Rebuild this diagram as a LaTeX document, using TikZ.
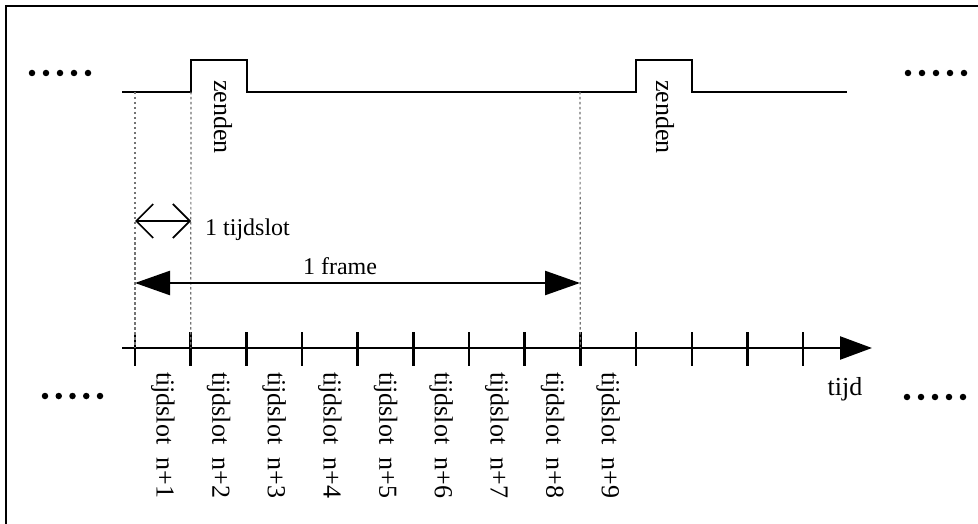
\documentclass[tikz,border=0pt]{standalone}
\usepackage{fontspec}
\setmainfont{Liberation Serif}
\usetikzlibrary{arrows.meta}
\begin{document}
\begin{tikzpicture}[x=1pt,y=-1pt,
  sig/.style={line width=2.4pt},
  guide/.style={black!55, line width=1.2pt, dash pattern=on 2.5pt off 2.5pt},
  lbl/.style={font=\fontsize{24}{24}\selectfont, inner sep=0pt},
  vlbl/.style={font=\fontsize{26}{26}\selectfont, rotate=-90, anchor=west, inner sep=0pt},
  dotmark/.style={circle, fill, inner sep=0pt, minimum size=6.5pt},
  openhead/.style={line width=1.7pt, {Straight Barb[length=17pt,width=34pt]}-{Straight Barb[length=17pt,width=34pt]}},
  fullhead/.style={line width=2.4pt, {Triangle[length=35pt,width=24pt]}-{Triangle[length=35pt,width=24pt]}},
]
\useasboundingbox (0,0) rectangle (978,524);
% outer frame (left and top edges)
\draw[line width=2.8pt] (6,524) -- (6,6) -- (978,6);

% transmit signal with two pulses
\coordinate (s0) at (122,92);
\coordinate (r1) at (191,92);
\coordinate (f1) at (247,92);
\coordinate (r2) at (636,92);
\coordinate (f2) at (692,92);
\coordinate (s1) at (847,92);
\draw[sig] (s0) -- (r1) -- ++(0,-32) -| (f1) -- (r2) -- ++(0,-32) -| (f2) -- (s1);
\node[vlbl] (z1) at (223,80) {zenden};
\node[vlbl] (z2) at (665,80) {zenden};

% time axis with slot ticks
\foreach \k in {0,...,12} {
  \coordinate (t\k) at ({135+55.67*\k},348);
  \draw[sig] (t\k) ++(0,-16) -- ++(0,34);
}
\coordinate (a0) at (122,348);
\coordinate (a1) at (872,348);
\draw[sig, -{Triangle[length=32pt,width=23pt]}] (a0) -- (a1);
\node[lbl, font=\fontsize{26}{26}\selectfont, anchor=base] (tijd) at (845,395) {tijd};

% slot labels
\foreach \k in {1,...,9} {
  \node[vlbl] (l\k) at ({135+55.67*(\k-0.5)},372) {tijdslot~~n+\k};
}

% guide lines down to the axis
\coordinate (g0) at (135,92);
\coordinate (g8) at (580,92);
\draw[guide] (g0) -- (t0);
\draw[guide] (r1) -- (t1);
\draw[guide] (g8) -- (t8);

% slot and frame lengths
\coordinate (ts0) at (135,221);
\coordinate (ts1) at (191,221);
\draw[openhead] (ts0) -- (ts1);
\node[lbl, anchor=base west] (tsl) at (205,235) {1 tijdslot};
\coordinate (fr0) at (135,283);
\coordinate (fr1) at (580,283);
\draw[fullhead] (fr0) -- (fr1);
\node[lbl, anchor=base] (frl) at (340,274) {1 frame};

% continuation dots
\foreach \i in {0,...,4} {
  \node[dotmark] (dtl\i) at ({32+14*\i},73) {};
  \node[dotmark] (dtr\i) at ({908+14*\i},73) {};
  \node[dotmark] (dbl\i) at ({45+13.75*\i},396) {};
  \node[dotmark] (dbr\i) at ({907+14*\i},397) {};
}
\end{tikzpicture}
\end{document}
